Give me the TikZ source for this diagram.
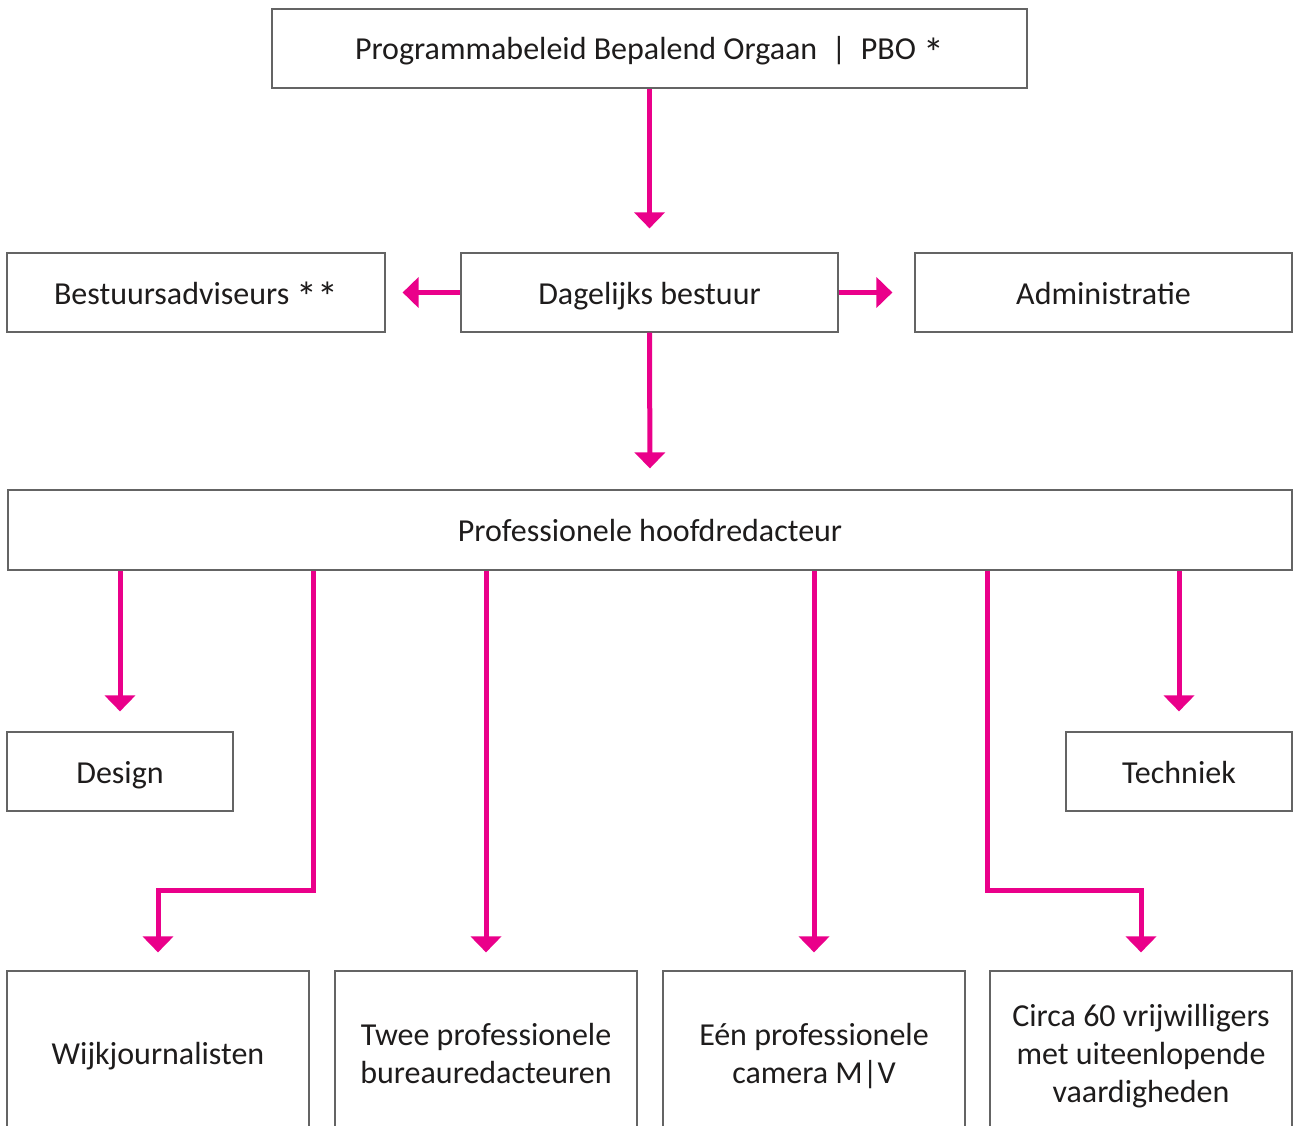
\documentclass[tikz,border=0pt]{standalone}
\usepackage{fontspec}
\setmainfont{Carlito}
\usetikzlibrary{arrows.meta}
\definecolor{mag}{RGB}{234,0,138}
\definecolor{boxline}{RGB}{100,100,100}
\definecolor{txt}{RGB}{30,28,28}
\newcommand\tstrut{\rule{0pt}{30pt}}
\newcommand\bstrut{\rule[-7pt]{0pt}{7pt}}
\newcommand\myast{\raisebox{-0.24em}{\scalebox{1.3}{*}}}
\tikzset{
  box/.style={draw=boxline, line width=1.2pt, fill=white, text=txt, align=center,
    font=\fontsize{32}{38}\selectfont, inner sep=0pt},
  oneline/.style={text height=30pt, text depth=7pt},
  conn/.style={draw=mag, line width=5pt, -{Triangle[width=30pt,length=16pt]}},
}
\begin{document}
\begin{tikzpicture}[x=1pt,y=-1pt]
\useasboundingbox (0,0) rectangle (1293,1126);
\begin{scope}
\clip (0,0) rectangle (1293,1126);
\node[box, oneline, minimum width=755pt, minimum height=79pt] (pbo) at (649.5,48.5) {Programmabeleid Bepalend Orgaan~~|~~PBO \myast};
\node[box, oneline, minimum width=378pt, minimum height=79pt] (ba) at (196,292.5) {Bestuursadviseurs \myast\myast};
\node[box, oneline, minimum width=377pt, minimum height=79pt] (db) at (649.5,292.5) {Dagelijks bestuur};
\node[box, oneline, minimum width=377pt, minimum height=79pt] (adm) at (1103.5,292.5) {Administratie};
\node[box, oneline, minimum width=1284pt, minimum height=80pt] (phd) at (650,530) {Professionele hoofdredacteur};
\node[box, oneline, minimum width=226pt, minimum height=79pt] (des) at (120,771.5) {Design};
\node[box, oneline, minimum width=226pt, minimum height=79pt] (tech) at (1179,771.5) {Techniek};
\node[box, oneline, minimum width=302pt, minimum height=164pt] (wijk) at (158,1053) {Wijkjournalisten};
\node[box, minimum width=302pt, minimum height=164pt] (twee) at (486,1053) {\tstrut Twee professionele\\bureauredacteuren\bstrut};
\node[box, minimum width=302pt, minimum height=164pt] (een) at (814,1053) {\tstrut Eén professionele\\camera M|V\bstrut};
\node[box, minimum width=302pt, minimum height=164pt] (circa) at (1141,1053) {\tstrut Circa 60 vrijwilligers\\met uiteenlopende\\vaardigheden\bstrut};
\end{scope}
\coordinate (bl) at (313,890);
\coordinate (br) at (987,890);
\draw[conn, shorten >=24pt] (pbo.south) -- (db.north);
\draw[conn, shorten >=17pt] (db.west) -- (ba.east);
\draw[conn, shorten >=22pt] (db.east) -- (adm.west);
\draw[conn, shorten >=21pt] (db.south) -- (phd.north);
\draw[conn, shorten >=20pt] (phd.south -| des.north) -- (des.north);
\draw[conn, shorten >=20pt] (phd.south -| tech.north) -- (tech.north);
\draw[conn, shorten >=18pt] (phd.south -| bl) -- (bl) -| (wijk.north);
\draw[conn, shorten >=18pt] (phd.south -| twee.north) -- (twee.north);
\draw[conn, shorten >=18pt] (phd.south -| een.north) -- (een.north);
\draw[conn, shorten >=18pt] (phd.south -| br) -- (br) -| (circa.north);
\end{tikzpicture}
\end{document}
